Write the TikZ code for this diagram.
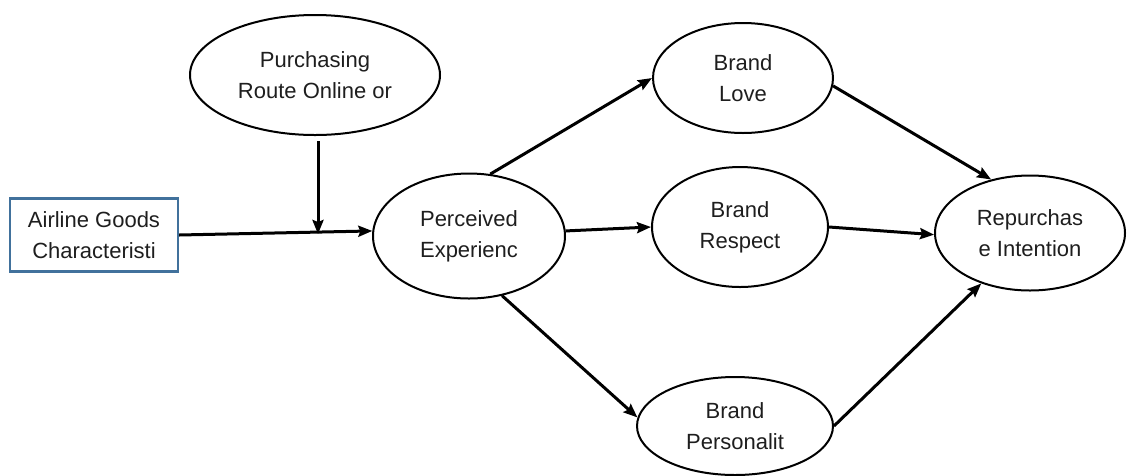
\documentclass[tikz,border=0pt]{standalone}
\usepackage{fontspec}
\setmainfont{Liberation Sans}
\usetikzlibrary{arrows.meta,shapes.geometric}
\definecolor{boxblue}{RGB}{65,113,156}
\definecolor{txtgray}{RGB}{30,30,30}

\begin{document}
\begin{tikzpicture}[x=1pt,y=-1pt,
    font=\fontsize{22}{31}\selectfont,text=txtgray,
    construct/.style={ellipse,draw,line width=2pt,align=center,inner sep=0pt},
    link/.style={->,>={Stealth[length=14pt,width=11pt,inset=2pt]},line width=3pt}]
  \useasboundingbox (0,0) rectangle (1137,475);

  \node[draw=boxblue,line width=2.2pt,minimum width=168pt,minimum height=73pt,align=center] (goods) at (94,235) {Airline Goods\\Characteristi};
  \node[construct,minimum width=250pt,minimum height=120pt] (route) at (315,75) {Purchasing\\Route Online or};
  \node[construct,minimum width=192pt,minimum height=125pt] (perc) at (469,236) {Perceived\\Experienc};
  \node[construct,minimum width=180pt,minimum height=110pt] (love) at (743,78) {Brand\\Love};
  \node[construct,minimum width=176pt,minimum height=120pt] (respect) at (740,227) {Brand\\Respect};
  \node[construct,minimum width=196pt,minimum height=98pt] (person) at (735,426) {Brand\\Personalit};
  \node[construct,minimum width=190pt,minimum height=115pt] (rep) at (1030,233) {Repurchas\\e Intention};

  \coordinate (join) at (318,234);

  \draw[link] (goods.east) -- (perc.177);
  \draw[link,shorten <=5pt] (join |- route.south) -- (join);
  \draw[link] (perc.71) -- (love.west);
  \draw[link] (perc.3) -- (respect.west);
  \draw[link] (perc.299) -- (person.175);
  \draw[link] (love.355) -- (rep.126);
  \draw[link] (respect.east) -- (rep.181);
  \draw[link] (person.east) -- (rep.226);
\end{tikzpicture}
\end{document}
